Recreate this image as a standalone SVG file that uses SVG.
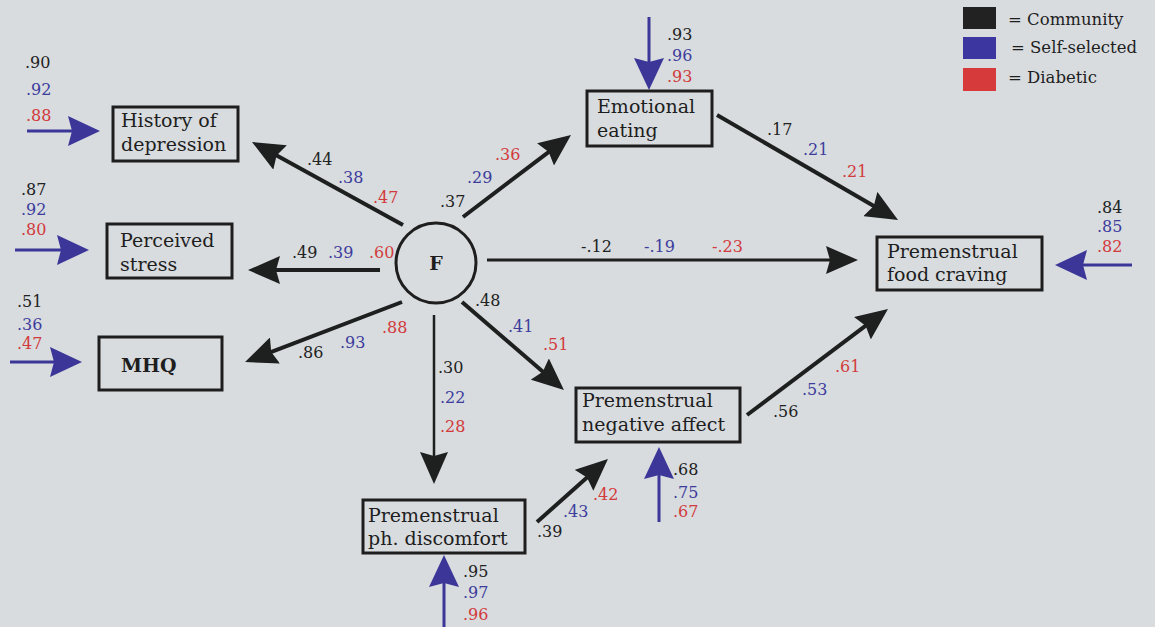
<svg xmlns="http://www.w3.org/2000/svg" width="1155" height="627" viewBox="0 0 1155 627">
<style>
.bg{fill:#d8dcdf}
.box{fill:none;stroke:#1e1e1e;stroke-width:3}
.nt{font-family:"DejaVu Serif","Liberation Serif",serif;font-size:19px;fill:#1e1e1e}
.num{font-family:"DejaVu Serif","Liberation Serif",serif;font-size:16px}
.k{fill:#222222}
.b{fill:#3d3c9c}
.r{fill:#d23a3c}
.lg{font-family:"DejaVu Serif","Liberation Serif",serif;font-size:16.5px;fill:#1e1e1e}
.dk{stroke:#1e1f1f;stroke-width:4;fill:none;marker-end:url(#hd)}
.bl{stroke:#3b3698;stroke-width:3;fill:none;marker-end:url(#hb)}
</style>
<defs>
<marker id="hd" viewBox="0 0 32 28" refX="10" refY="14" markerWidth="32" markerHeight="28" markerUnits="userSpaceOnUse" orient="auto">
<path d="M0,0 L32,14 L0,28 L4,14 Z" fill="#1e1f1f"/>
</marker>
<marker id="hb" viewBox="0 0 32 30" refX="10" refY="15" markerWidth="32" markerHeight="30" markerUnits="userSpaceOnUse" orient="auto">
<path d="M0,0 L32,15 L0,30 L4,15 Z" fill="#3b3698"/>
</marker>
</defs>
<rect class="bg" x="0" y="0" width="1155" height="627"/>

<g id="legend">
<rect x="963" y="7" width="33" height="22" fill="#222222"/>
<rect x="963" y="37" width="33" height="22" fill="#3b36a0"/>
<rect x="963" y="68" width="33" height="23" fill="#d63a3a"/>
<text class="lg" x="1008" y="25">= Community</text>
<text class="lg" x="1011" y="53">= Self-selected</text>
<text class="lg" x="1008" y="83">= Diabetic</text>
</g>

<g id="connectors">
<line class="dk" x1="403" y1="225" x2="271.3" y2="152.6"/>
<line class="dk" x1="380" y1="270" x2="270" y2="270"/>
<line class="dk" x1="402" y1="302" x2="265.6" y2="354.1"/>
<line class="dk" x1="463" y1="217" x2="553.5" y2="148.3"/>
<line class="dk" style="stroke-width:3" x1="487" y1="260" x2="836" y2="260"/>
<line class="dk" x1="462" y1="302" x2="547.3" y2="375.6"/>
<line class="dk" style="stroke-width:2.5" x1="434" y1="315" x2="434" y2="462"/>
<line class="dk" x1="717" y1="115" x2="879" y2="209"/>
<line class="dk" x1="747" y1="415" x2="870.4" y2="322.2"/>
<line class="dk" x1="537" y1="522" x2="591.5" y2="473.6"/>

<line class="bl" x1="27" y1="131" x2="78" y2="131"/>
<line class="bl" x1="15" y1="250" x2="67" y2="250"/>
<line class="bl" x1="10" y1="362" x2="60" y2="362"/>
<line class="bl" x1="649" y1="17" x2="649" y2="68"/>
<line class="bl" x1="1132" y1="265" x2="1077" y2="265"/>
<line class="bl" x1="659" y1="522" x2="659" y2="469"/>
<line class="bl" x1="444" y1="627" x2="444" y2="577"/>

<text class="num k" x="307" y="165">.44</text>
<text class="num b" x="338" y="183">.38</text>
<text class="num r" x="373" y="203">.47</text>
<text class="num k" x="292" y="258">.49</text>
<text class="num b" x="328" y="258">.39</text>
<text class="num r" x="369" y="258">.60</text>
<text class="num k" x="298" y="358">.86</text>
<text class="num b" x="340" y="348">.93</text>
<text class="num r" x="382" y="333">.88</text>
<text class="num k" x="440" y="207">.37</text>
<text class="num b" x="467" y="183">.29</text>
<text class="num r" x="495" y="160">.36</text>
<text class="num k" x="581" y="252">-.12</text>
<text class="num b" x="644" y="252">-.19</text>
<text class="num r" x="712" y="252">-.23</text>
<text class="num k" x="475" y="306">.48</text>
<text class="num b" x="508" y="332">.41</text>
<text class="num r" x="543" y="350">.51</text>
<text class="num k" x="438" y="373">.30</text>
<text class="num b" x="440" y="403">.22</text>
<text class="num r" x="440" y="432">.28</text>
<text class="num k" x="537" y="537">.39</text>
<text class="num b" x="563" y="517">.43</text>
<text class="num r" x="593" y="500">.42</text>
<text class="num k" x="767" y="135">.17</text>
<text class="num b" x="803" y="155">.21</text>
<text class="num r" x="842" y="177">.21</text>
<text class="num k" x="773" y="417">.56</text>
<text class="num b" x="802" y="395">.53</text>
<text class="num r" x="835" y="372">.61</text>

<text class="num k" x="25" y="68">.90</text>
<text class="num b" x="26" y="95">.92</text>
<text class="num r" x="26" y="121">.88</text>
<text class="num k" x="21" y="195">.87</text>
<text class="num b" x="21" y="215">.92</text>
<text class="num r" x="21" y="235">.80</text>
<text class="num k" x="17" y="307">.51</text>
<text class="num b" x="17" y="330">.36</text>
<text class="num r" x="17" y="349">.47</text>
<text class="num k" x="667" y="40">.93</text>
<text class="num b" x="667" y="61">.96</text>
<text class="num r" x="667" y="82">.93</text>
<text class="num k" x="1097" y="213">.84</text>
<text class="num b" x="1097" y="232">.85</text>
<text class="num r" x="1097" y="252">.82</text>
<text class="num k" x="673" y="475">.68</text>
<text class="num b" x="673" y="498">.75</text>
<text class="num r" x="673" y="517">.67</text>
<text class="num k" x="463" y="577">.95</text>
<text class="num b" x="463" y="598">.97</text>
<text class="num r" x="463" y="620">.96</text>
</g>

<g id="F">
<circle cx="436" cy="263" r="40" fill="none" stroke="#1e1e1e" stroke-width="3"/>
<text class="nt" x="436" y="270" text-anchor="middle" font-weight="bold" font-size="18">F</text>
</g>

<g id="history">
<rect class="box" x="113" y="107" width="125" height="54"/>
<text class="nt" x="121" y="127">History of</text>
<text class="nt" x="121" y="151">depression</text>
</g>

<g id="stress">
<rect class="box" x="107" y="224" width="125" height="54"/>
<text class="nt" x="120" y="247">Perceived</text>
<text class="nt" x="120" y="271">stress</text>
</g>

<g id="mhq">
<rect class="box" x="99" y="337" width="123" height="53"/>
<text class="nt" x="121" y="372" font-weight="bold">MHQ</text>
</g>

<g id="emotional">
<rect class="box" x="587" y="91" width="125" height="55"/>
<text class="nt" x="597" y="113">Emotional</text>
<text class="nt" x="597" y="137">eating</text>
</g>

<g id="craving">
<rect class="box" x="877" y="237" width="165" height="53"/>
<text class="nt" x="887" y="258">Premenstrual</text>
<text class="nt" x="887" y="281">food craving</text>
</g>

<g id="negaffect">
<rect class="box" x="576" y="388" width="164" height="54"/>
<text class="nt" x="582" y="407">Premenstrual</text>
<text class="nt" x="582" y="431">negative affect</text>
</g>

<g id="discomfort">
<rect class="box" x="363" y="500" width="162" height="53"/>
<text class="nt" x="368" y="522">Premenstrual</text>
<text class="nt" x="368" y="545">ph. discomfort</text>
</g>
</svg>
